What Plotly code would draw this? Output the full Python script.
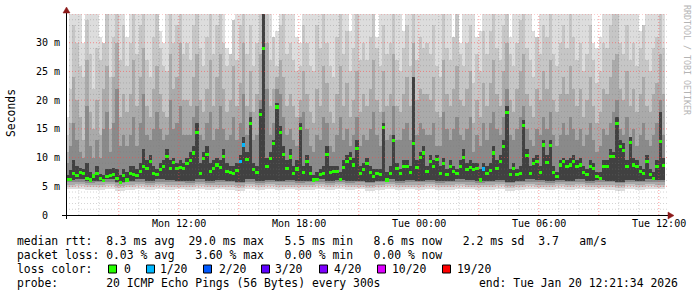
import pandas as pd
import plotly.graph_objects as go

# ---------------- data ----------------
T_START = "2026-01-19 06:21:34"
T_END = "2026-01-20 12:21:34"
SAMPLE_T0 = "2026-01-19 06:25"      # centre of first 10-minute sample
LOW_T0 = "2026-01-19 06:35"         # centre of first 30-minute low-envelope sample

# median rtt in ms, one value per 10 minutes
median_ms = [
    6.2, 6.2, 7.3, 6.9, 7.4, 7.2, 6.4, 6.1, 6.8, 7.3, 6.4, 6.0, 6.7, 6.9, 7.0, 6.4, 5.7, 6.9,
    6.1, 7.3, 7.0, 6.9, 7.6, 8.4, 8.1, 9.3, 7.2, 7.0, 7.9, 8.4, 10.2, 8.1, 9.1, 8.1, 8.3, 8.1,
    9.0, 9.5, 10.8, 14.4, 7.3, 9.9, 10.6, 7.6, 8.1, 8.7, 8.3, 10.2, 7.6, 7.4, 7.2, 7.8, 9.3, 12.2,
    9.6, 15.9, 7.9, 7.4, 17.5, 29.0, 8.5, 9.9, 12.4, 18.8, 14.4, 10.5, 8.1, 10.1, 7.2, 8.0, 15.0, 7.4,
    9.3, 7.2, 6.1, 6.2, 7.0, 7.3, 10.5, 7.4, 7.6, 7.6, 6.2, 8.3, 9.3, 9.8, 8.7, 11.6, 7.2, 7.9,
    8.9, 7.4, 6.7, 7.2, 7.0, 15.2, 6.1, 7.3, 13.0, 8.1, 7.2, 8.5, 8.4, 7.4, 12.5, 8.3, 10.0, 10.8,
    7.6, 9.3, 8.4, 9.6, 7.2, 9.0, 7.0, 8.4, 7.6, 7.2, 8.4, 10.0, 7.9, 8.3, 7.9, 8.1, 6.1, 8.0,
    7.2, 7.8, 10.8, 8.1, 9.3, 11.9, 17.8, 7.0, 8.1, 7.0, 7.2, 15.6, 10.3, 7.2, 8.9, 9.3, 7.4, 12.2,
    9.1, 12.1, 7.4, 6.7, 8.7, 9.3, 8.4, 8.7, 9.3, 8.4, 8.7, 7.4, 7.1, 8.4, 8.1, 6.7, 6.4, 8.4,
    8.4, 10.2, 10.2, 15.9, 11.9, 11.2, 8.4, 12.6, 8.7, 8.4, 7.6, 7.2, 9.3, 7.0, 6.4, 8.4, 12.8, 8.6,
]
# samples that lost 1 of 20 pings
loss_idx = [52, 53, 125]

# smoke: upper envelopes (ms), one value per 10 minutes, outermost first
smoke_hi1 = [
    17, 35, 35, 35, 35, 30, 35, 35, 35, 35, 31, 30, 35, 35, 35, 35, 35, 35,
    31, 35, 35, 35, 35, 35, 35, 35, 35, 35, 32, 30, 35, 35, 35, 35, 35, 35,
    35, 35, 35, 35, 35, 35, 35, 35, 35, 35, 35, 35, 29, 27, 31, 35, 35, 35,
    35, 35, 35, 35, 35, 35, 35, 35, 30, 32, 35, 35, 35, 35, 35, 31, 30, 35,
    35, 35, 35, 35, 35, 35, 35, 35, 35, 35, 35, 35, 35, 32, 35, 35, 35, 35,
    35, 35, 30, 31, 35, 35, 35, 35, 35, 35, 35, 32, 35, 35, 35, 35, 35, 35,
    35, 35, 35, 35, 35, 35, 35, 35, 31, 29, 30, 35, 35, 35, 35, 31, 32, 35,
    35, 35, 35, 35, 35, 35, 30, 31, 35, 35, 35, 35, 35, 35, 32, 31, 35, 35,
    35, 35, 35, 35, 35, 35, 35, 35, 35, 35, 35, 35, 35, 35, 30, 29, 31, 35,
    35, 35, 35, 35, 35, 35, 35, 35, 35, 35, 32, 30, 35, 35, 35, 35, 35, 35,
]
smoke_hi2 = [
    14, 22, 33, 30, 26, 24, 34, 28, 22, 29, 27, 30, 35, 24, 31, 35, 27, 33,
    26, 30, 35, 28, 33, 35, 27, 24, 31, 35, 29, 26, 25, 35, 30, 33, 35, 28,
    30, 27, 33, 35, 29, 26, 31, 35, 28, 33, 35, 30, 26, 28, 34, 27, 33, 35,
    28, 33, 26, 30, 35, 35, 35, 27, 31, 26, 33, 35, 28, 30, 27, 25, 26, 33,
    30, 26, 25, 33, 29, 35, 30, 26, 24, 31, 35, 28, 32, 25, 29, 35, 27, 30,
    27, 31, 35, 29, 26, 33, 28, 30, 35, 27, 25, 29, 33, 26, 35, 27, 31, 29,
    30, 28, 33, 26, 24, 35, 29, 27, 31, 35, 28, 26, 30, 33, 23, 28, 25, 32,
    28, 32, 35, 29, 27, 33, 35, 28, 26, 30, 34, 35, 29, 27, 24, 31, 28, 33,
    31, 35, 28, 26, 30, 33, 29, 35, 31, 27, 30, 25, 28, 33, 27, 23, 25, 30,
    29, 33, 35, 35, 30, 28, 33, 27, 30, 26, 29, 33, 27, 25, 29, 31, 35, 29,
]
smoke_hi3 = [
    11, 16, 24, 20, 17, 13, 27, 18, 15, 20, 14, 22, 26, 15, 24, 30, 17, 21,
    18, 21, 27, 19, 24, 29, 19, 17, 22, 26, 21, 18, 17, 28, 22, 24, 30, 20,
    20, 19, 24, 28, 20, 18, 22, 27, 19, 24, 28, 22, 18, 20, 26, 19, 23, 30,
    19, 25, 18, 21, 28, 35, 30, 19, 22, 24, 27, 24, 19, 21, 19, 17, 20, 25,
    21, 18, 16, 22, 19, 26, 23, 18, 16, 21, 26, 19, 23, 17, 20, 25, 18, 21,
    19, 22, 27, 20, 18, 25, 19, 21, 28, 19, 18, 21, 24, 19, 30, 20, 22, 21,
    21, 20, 24, 18, 17, 27, 21, 19, 22, 26, 20, 19, 22, 25, 16, 20, 17, 23,
    19, 23, 27, 21, 19, 25, 30, 20, 18, 22, 25, 28, 21, 19, 17, 22, 20, 25,
    22, 27, 20, 18, 21, 24, 21, 26, 22, 19, 22, 17, 20, 24, 19, 16, 18, 22,
    21, 24, 27, 28, 22, 20, 25, 19, 22, 18, 21, 24, 19, 18, 21, 23, 28, 21,
]
smoke_hi4 = [
    9, 12, 16, 13, 11, 10, 19, 12, 10, 13, 10, 15, 18, 11, 16, 22, 12, 14,
    12, 14, 17, 12, 16, 21, 14, 13, 15, 18, 15, 13, 14, 20, 15, 16, 19, 14,
    14, 14, 17, 19, 14, 13, 16, 18, 13, 15, 19, 15, 13, 14, 17, 13, 16, 21,
    14, 18, 13, 14, 20, 35, 22, 14, 16, 22, 21, 17, 14, 15, 13, 12, 17, 18,
    15, 12, 11, 14, 13, 17, 16, 12, 11, 14, 17, 13, 15, 12, 14, 17, 12, 14,
    13, 15, 18, 14, 12, 18, 13, 14, 19, 13, 13, 15, 16, 13, 22, 14, 16, 15,
    14, 14, 16, 12, 12, 18, 15, 13, 15, 17, 14, 13, 15, 17, 11, 14, 12, 16,
    13, 16, 18, 15, 14, 17, 22, 14, 13, 15, 17, 19, 15, 13, 12, 15, 14, 17,
    15, 18, 14, 12, 14, 16, 14, 17, 15, 13, 15, 12, 14, 16, 13, 11, 12, 15,
    14, 16, 18, 20, 15, 14, 17, 13, 15, 12, 14, 16, 13, 12, 14, 16, 20, 14,
]
smoke_hi5 = [
    7.0, 7.8, 9.5, 8.5, 8.2, 8.0, 9.0, 7.5, 7.2, 8.5, 7.2, 7.0, 8.0, 8.0, 8.2, 8.0, 7.0, 8.0,
    7.5, 8.5, 8.5, 8.0, 9.0, 11.5, 9.5, 10.5, 8.5, 8.0, 9.0, 9.5, 11.5, 9.5, 10.0, 9.0, 9.5, 9.0,
    10.0, 11.0, 12.0, 16.0, 9.0, 11.0, 12.0, 9.0, 9.5, 10.0, 9.5, 11.5, 9.0, 8.5, 8.5, 9.0, 10.5, 13.5,
    11.0, 17.0, 9.0, 8.5, 18.5, 35.0, 10.0, 11.0, 13.0, 19.5, 15.5, 12.0, 9.5, 11.5, 8.5, 9.5, 16.0, 8.5,
    10.5, 8.5, 7.0, 7.5, 8.0, 8.5, 12.0, 8.5, 8.5, 8.5, 7.5, 9.5, 10.5, 11.0, 10.0, 13.0, 8.5, 9.0,
    10.0, 8.5, 8.0, 8.0, 8.0, 16.0, 7.5, 8.5, 14.0, 9.0, 8.0, 9.5, 9.5, 8.5, 24.0, 9.5, 11.0, 12.0,
    8.5, 10.5, 9.5, 10.5, 8.5, 10.0, 8.0, 9.5, 8.5, 8.0, 9.5, 11.5, 9.0, 9.5, 9.0, 9.0, 8.0, 9.0,
    8.5, 9.0, 12.0, 9.5, 10.5, 13.0, 19.0, 8.0, 9.0, 8.0, 8.5, 16.5, 11.5, 8.5, 10.0, 10.5, 8.5, 13.0,
    10.5, 13.0, 8.5, 7.5, 9.5, 10.0, 9.5, 10.0, 10.5, 9.5, 10.0, 8.5, 8.0, 9.5, 9.0, 7.5, 7.5, 9.5,
    9.5, 11.5, 11.0, 17.0, 13.0, 12.5, 9.5, 13.5, 10.0, 9.5, 8.5, 8.0, 10.5, 8.0, 7.5, 9.5, 18.0, 10.0,
]
# smoke: lower envelopes (ms), one value per 30 minutes, innermost first
smoke_lo5 = [
    6.1, 6.2, 5.9, 6.0, 6.2, 5.8, 6.0, 6.2, 5.9, 6.2, 6.1, 6.0,
    6.0, 6.2, 5.9, 6.1, 6.0, 5.8, 6.2, 5.9, 6.1, 6.0, 6.1, 5.9,
    6.0, 6.2, 5.9, 6.1, 5.9, 6.0, 5.8, 6.0, 6.2, 5.9, 6.1, 6.0,
    6.1, 5.9, 6.0, 6.2, 6.1, 5.9, 6.0, 6.1, 5.8, 6.0, 6.2, 6.1,
    5.9, 6.1, 6.0, 6.2, 5.9, 6.1, 6.0, 5.8, 6.1, 6.0, 6.2, 6.1,
]
smoke_lo4 = [
    5.7, 5.8, 5.6, 5.7, 5.8, 5.5, 5.7, 5.8, 5.6, 5.8, 5.7, 5.7,
    5.6, 5.8, 5.6, 5.7, 5.7, 5.5, 5.8, 5.6, 5.8, 5.7, 5.7, 5.6,
    5.7, 5.8, 5.6, 5.8, 5.6, 5.7, 5.5, 5.7, 5.8, 5.6, 5.7, 5.7,
    5.8, 5.6, 5.7, 5.8, 5.7, 5.6, 5.7, 5.8, 5.5, 5.7, 5.8, 5.7,
    5.6, 5.8, 5.7, 5.8, 5.6, 5.7, 5.7, 5.5, 5.8, 5.7, 5.8, 5.7,
]
smoke_lo3 = [
    5.3, 5.4, 5.2, 5.3, 5.4, 5.1, 5.3, 5.4, 5.2, 5.4, 5.3, 5.3,
    5.2, 5.4, 5.2, 5.3, 5.3, 5.1, 5.4, 5.2, 5.4, 5.3, 5.3, 5.2,
    5.3, 5.4, 5.2, 5.4, 5.2, 5.3, 5.1, 5.3, 5.4, 5.2, 5.3, 5.3,
    5.4, 5.2, 5.3, 5.4, 5.3, 5.2, 5.3, 5.4, 5.1, 5.3, 5.4, 5.3,
    5.2, 5.4, 5.3, 5.4, 5.2, 5.3, 5.3, 5.1, 5.4, 5.3, 5.4, 5.3,
]
smoke_lo2 = [
    4.9, 5.0, 4.8, 4.9, 5.0, 4.7, 4.9, 5.0, 4.8, 5.0, 4.9, 4.9,
    4.8, 5.0, 4.8, 4.9, 4.9, 4.7, 5.0, 4.8, 5.0, 4.9, 4.9, 4.8,
    4.9, 5.0, 4.8, 5.0, 4.8, 4.9, 4.7, 4.9, 5.0, 4.8, 4.9, 4.9,
    5.0, 4.8, 4.9, 5.0, 4.9, 4.8, 4.9, 5.0, 4.7, 4.9, 5.0, 4.9,
    4.8, 5.0, 4.9, 5.0, 4.8, 4.9, 4.9, 4.7, 5.0, 4.9, 5.0, 4.9,
]
smoke_lo1 = [
    4.6, 4.5, 4.3, 4.4, 4.6, 4.2, 4.4, 4.5, 4.3, 4.6, 4.4, 4.5,
    4.4, 4.6, 4.3, 4.5, 4.4, 4.2, 4.5, 4.3, 4.6, 4.4, 4.5, 4.3,
    4.4, 4.5, 4.3, 4.6, 4.4, 4.5, 4.2, 4.4, 4.6, 4.3, 4.5, 4.4,
    4.5, 4.3, 4.4, 4.6, 4.5, 4.3, 4.4, 4.5, 4.2, 4.4, 4.6, 4.5,
    4.3, 4.5, 4.4, 4.6, 4.3, 4.5, 4.4, 4.2, 4.5, 4.4, 4.6, 4.5,
]

y_tickvals = [0, 5, 10, 15, 20, 25, 30]
y_ticktext = ["0  ", "5 m", "10 m", "15 m", "20 m", "25 m", "30 m"]
x_tickvals = ["2026-01-19 12:00", "2026-01-19 18:00", "2026-01-20 00:00",
              "2026-01-20 06:00", "2026-01-20 12:00"]
x_ticktext = ["Mon 12:00", "Mon 18:00", "Tue 00:00", "Tue 06:00", "Tue 12:00"]

legend_rtt = "median rtt:  8.3 ms avg  29.0 ms max   5.5 ms min   8.6 ms now   2.2 ms sd  3.7   am/s"
legend_loss = "packet loss: 0.03 % avg   3.60 % max   0.00 % min   0.00 % now"
legend_color_title = "loss color:"
loss_labels = ["0", "1/20", "2/20", "3/20", "4/20", "10/20", "19/20"]
loss_colors = ["#26ff00", "#00b8ff", "#0059ff", "#5e00ff", "#7e00ff", "#dd00ff", "#ff0000"]
legend_probe = "probe:       20 ICMP Echo Pings (56 Bytes) every 300s"
legend_end = "end: Tue Jan 20 12:21:34 2026"
watermark = "RRDTOOL / TOBI OETIKER"
y_title = "Seconds"

# ---------------- layout geometry (pixels) ----------------
W, H = 697, 297
L, R, T, B = 66, 31, 14, 82
PW, PH = W - L - R, H - T - B
MONO = "DejaVu Sans Mono"


def xp(px):
    return (px - L) / PW


def yp(py):
    return (T + PH - py) / PH


def nb(s):
    return s.replace(" ", "\u00a0")


t10 = pd.date_range(SAMPLE_T0, periods=len(median_ms), freq="10min")
t30 = pd.date_range(LOW_T0, periods=len(smoke_lo1), freq="30min")
W10 = 10 * 60 * 1000
W30 = 30 * 60 * 1000

fig = go.Figure()


def smoke_bar(x, top, color, width):
    fig.add_trace(go.Bar(x=x, y=top, marker=dict(color=color, line=dict(width=0)),
                         width=width, hoverinfo="skip", showlegend=False))


C1, C2, C3, C4, C5 = "#dddddd", "#c6c6c6", "#aaaaaa", "#8a8a8a", "#414141"
smoke_bar(t10, smoke_hi1, C1, W10)
smoke_bar(t10, smoke_hi2, C2, W10)
smoke_bar(t10, smoke_hi3, C3, W10)
smoke_bar(t10, smoke_hi4, C4, W10)
smoke_bar(t10, smoke_hi5, C5, W10)
smoke_bar(t30, smoke_lo5, C4, W30)
smoke_bar(t30, smoke_lo4, C3, W30)
smoke_bar(t30, smoke_lo3, C2, W30)
smoke_bar(t30, smoke_lo2, C1, W30)
smoke_bar(t30, smoke_lo1, "#ffffff", W30)

# median markers: small boxes coloured by packet loss
box_h = 0.55
med_colors = [loss_colors[1] if i in loss_idx else loss_colors[0] for i in range(len(median_ms))]
fig.add_trace(go.Bar(x=t10, y=[box_h] * len(median_ms), base=[m - box_h / 2 for m in median_ms],
                     marker=dict(color=med_colors, line=dict(width=0)), width=W10,
                     hoverinfo="skip", showlegend=False))

MAJ = "rgba(255,70,70,0.55)"
MIN = "rgba(120,120,120,0.32)"
shapes = []
# grid (drawn above the smoke like rrdtool)
for v in range(1, 36):
    major = v % 5 == 0
    shapes.append(dict(type="line", xref="paper", yref="y", x0=0, x1=xp(668), y0=v, y1=v,
                       layer="above",
                       line=dict(color=MAJ if major else MIN, width=1, dash="1px,2px")))
for h in pd.date_range("2026-01-19 07:00", "2026-01-20 12:00", freq="1h"):
    major = h.hour % 3 == 0
    shapes.append(dict(type="line", xref="x", yref="paper", x0=h, x1=h, y0=0, y1=1,
                       layer="above",
                       line=dict(color=MAJ if major else MIN, width=1, dash="1px,2px")))
# axes
shapes.append(dict(type="line", xref="paper", yref="paper", x0=xp(62), x1=xp(669),
                   y0=yp(215.5), y1=yp(215.5), layer="above", line=dict(color="#000000", width=1)))
shapes.append(dict(type="line", xref="paper", yref="paper", x0=xp(66.5), x1=xp(66.5),
                   y0=yp(219), y1=yp(11), layer="above", line=dict(color="#000000", width=1)))
ARROW = "#8c1a1a"
shapes.append(dict(type="path", xref="paper", yref="paper", layer="above",
                   path=f"M {xp(668)},{yp(212)} L {xp(674)},{yp(215.5)} L {xp(668)},{yp(219)} Z",
                   fillcolor=ARROW, line=dict(color=ARROW, width=0.5)))
shapes.append(dict(type="path", xref="paper", yref="paper", layer="above",
                   path=f"M {xp(63)},{yp(13)} L {xp(66.5)},{yp(7)} L {xp(70)},{yp(13)} Z",
                   fillcolor=ARROW, line=dict(color=ARROW, width=0.5)))

annotations = []
# y tick labels
for v, txt in zip(y_tickvals, y_ticktext):
    annotations.append(dict(xref="paper", yref="y", x=xp(61), y=v, text=nb(txt), showarrow=False,
                            xanchor="right", yanchor="middle", borderpad=0,
                            font=dict(family=MONO, size=10, color="#000000")))
# x tick labels
for v, txt in zip(x_tickvals, x_ticktext):
    annotations.append(dict(xref="x", yref="paper", x=v, y=yp(224), text=nb(txt), showarrow=False,
                            xanchor="center", yanchor="middle", borderpad=0,
                            font=dict(family=MONO, size=10, color="#000000")))
# axis title and watermark
annotations.append(dict(xref="paper", yref="paper", x=xp(11), y=yp(113), text=y_title,
                        showarrow=False, textangle=-90, xanchor="center", yanchor="middle",
                        font=dict(family=MONO, size=11.4, color="#000000")))
annotations.append(dict(xref="paper", yref="paper", x=xp(687), y=yp(60), text=nb(watermark),
                        showarrow=False, textangle=90, xanchor="center", yanchor="middle",
                        font=dict(family=MONO, size=8.3, color="#b4b4b4")))
# legend lines
LEG = dict(family=MONO, size=11.4, color="#000000")
for txt, py in [(legend_rtt, 241), (legend_loss, 255), (legend_color_title, 269), (legend_probe, 283)]:
    annotations.append(dict(xref="paper", yref="paper", x=xp(15.5), y=yp(py), text=nb(txt),
                            showarrow=False, xanchor="left", yanchor="middle", borderpad=0, font=LEG))
annotations.append(dict(xref="paper", yref="paper", x=xp(477.5), y=yp(283), text=nb(legend_end),
                        showarrow=False, xanchor="left", yanchor="middle", borderpad=0, font=LEG))
box_left = [108.5, 146.5, 203.5, 261.5, 319.5, 377.5, 442.5]
label_left = [122.5, 159.3, 217.5, 274.3, 333.3, 391.0, 456.0]
for bl, ll, lab, col in zip(box_left, label_left, loss_labels, loss_colors):
    shapes.append(dict(type="rect", xref="paper", yref="paper", x0=xp(bl), x1=xp(bl + 8),
                       y0=yp(273), y1=yp(265), fillcolor=col, line=dict(color="#000000", width=1)))
    annotations.append(dict(xref="paper", yref="paper", x=xp(ll), y=yp(269), text=nb(lab),
                            showarrow=False, xanchor="left", yanchor="middle", borderpad=0, font=LEG))

fig.update_layout(
    width=W, height=H, margin=dict(l=L, r=R, t=T, b=B, pad=0),
    paper_bgcolor="#ffffff", plot_bgcolor="#ffffff",
    barmode="overlay", bargap=0, showlegend=False,
    xaxis=dict(type="date", range=[T_START, T_END], showgrid=False, zeroline=False,
               showline=False, showticklabels=False, ticks=""),
    yaxis=dict(range=[0, 35], showgrid=False, zeroline=False, showline=False,
               showticklabels=False, ticks=""),
    shapes=shapes, annotations=annotations,
)

fig.write_html("out.html")
